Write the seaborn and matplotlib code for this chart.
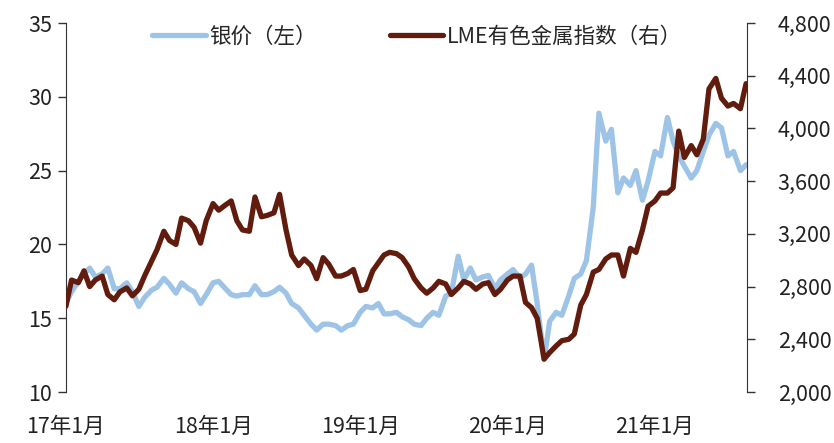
import matplotlib
matplotlib.use("Agg")
import matplotlib.pyplot as plt
import matplotlib.dates as mdates
import numpy as np
import pandas as pd
import seaborn as sns

# semi-monthly observations, Jan 2017 - Aug 2021
dates = pd.date_range("2017-01-01", periods=112, freq="SMS")

silver = [
    16.0, 16.8, 17.5, 18.0, 18.4, 17.8, 18.0, 18.4, 17.0, 17.0,
    17.4, 16.8, 15.8, 16.4, 16.9, 17.1, 17.7, 17.3, 16.7, 17.4,
    17.0, 16.8, 16.0, 16.6, 17.4, 17.5, 17.0, 16.6, 16.5, 16.6,
    16.6, 17.2, 16.6, 16.6, 16.8, 17.1, 16.7, 16.0, 15.7, 15.2,
    14.6, 14.2, 14.6, 14.6, 14.5, 14.2, 14.5, 14.6, 15.4, 15.8,
    15.7, 16.0, 15.3, 15.3, 15.4, 15.1, 14.9, 14.6, 14.5, 15.0,
    15.4, 15.2, 16.5, 16.7, 19.2, 17.6, 18.4, 17.6, 17.8, 17.9,
    17.0, 17.6, 18.0, 18.3, 17.7, 18.0, 18.6, 16.0, 12.2, 14.8,
    15.4, 15.2, 16.5, 17.7, 18.0, 18.9, 22.5, 28.9, 27.0, 27.8,
    23.5, 24.5, 24.0, 25.0, 23.0, 24.3, 26.3, 26.0, 28.6, 27.0,
    26.0, 25.3, 24.5, 25.0, 26.3, 27.4, 28.2, 27.9, 26.0, 26.3,
    25.0, 25.4,
]

lme = [
    2650, 2850, 2830, 2920, 2800, 2850, 2880, 2740, 2700, 2760,
    2790, 2730, 2780, 2880, 2990, 3080, 3220, 3150, 3120, 3320,
    3300, 3250, 3130, 3300, 3430, 3380, 3420, 3450, 3300, 3230,
    3220, 3480, 3330, 3340, 3360, 3500, 3230, 3040, 2960, 3010,
    2960, 2860, 3020, 2970, 2880, 2880, 2900, 2930, 2770, 2780,
    2920, 2980, 3040, 3060, 3050, 3020, 2950, 2860, 2790, 2750,
    2790, 2840, 2820, 2740, 2790, 2840, 2820, 2780, 2820, 2830,
    2740, 2780, 2850, 2880, 2880, 2680, 2640, 2560, 2250, 2300,
    2350, 2390, 2400, 2440, 2660, 2740, 2910, 2930, 3010, 3040,
    3040, 2880, 3090, 3060, 3230, 3410, 3450, 3510, 3510, 3550,
    3980, 3780, 3870, 3800, 3920, 4300, 4380, 4230, 4170, 4190,
    4150, 4340,
]

df = pd.DataFrame({"date": dates, "silver": silver, "lme": lme})

label_silver = "银价（左）"
label_lme = "LME有色金属指数（右）"
blue = "#9DC3E6"
brown = "#621C0E"

sns.set_style("white")
plt.rcParams["font.family"] = ["Noto Sans CJK SC", "DejaVu Sans"]
plt.rcParams["axes.unicode_minus"] = False

fig = plt.figure(figsize=(8.34, 4.43), dpi=100)
ax = fig.add_axes([0.079, 0.115, 0.817, 0.833])
ax2 = ax.twinx()

sns.lineplot(data=df, x="date", y="silver", ax=ax, color=blue, linewidth=3.8,
             label=label_silver, legend=False)
sns.lineplot(data=df, x="date", y="lme", ax=ax2, color=brown, linewidth=3.8,
             label=label_lme, legend=False)

ax.set_xlim(pd.Timestamp("2017-01-01"), pd.Timestamp("2021-08-18"))
ax.set_ylim(10, 35)
ax2.set_ylim(2000, 4800)
ax.set_yticks(np.arange(10, 36, 5))
ax2.set_yticks(np.arange(2000, 4801, 400))
ax2.yaxis.set_major_formatter(matplotlib.ticker.FuncFormatter(lambda v, p: f"{int(v):,}"))

ax.xaxis.set_major_locator(mdates.YearLocator())
ax.xaxis.set_major_formatter(
    matplotlib.ticker.FuncFormatter(lambda v, p: mdates.num2date(v).strftime("%y") + "年1月"))

ax.set_xlabel("")
ax.set_ylabel("")
ax2.set_ylabel("")

for a in (ax, ax2):
    for s in a.spines.values():
        s.set_visible(False)
ax.spines["left"].set_visible(True)
ax2.spines["right"].set_visible(True)
ax.spines["left"].set_color("#333333")
ax2.spines["right"].set_color("#333333")

ax.tick_params(axis="y", left=True, length=6, width=1, color="#333333",
               labelsize=15.5, pad=4, labelcolor="#222222")
ax2.tick_params(axis="y", right=True, length=6, width=1, color="#333333",
                labelsize=15.5, pad=16, labelcolor="#222222")
ax.tick_params(axis="x", bottom=False, labelsize=15.5, pad=14, labelcolor="#222222")

h1, l1 = ax.get_legend_handles_labels()
h2, l2 = ax2.get_legend_handles_labels()
ax.legend(h1 + h2, l1 + l2, loc="upper center", bbox_to_anchor=(0.515, 1.045),
          ncol=2, frameon=False, fontsize=15.5, handlelength=2.5,
          handletextpad=0.15, columnspacing=3.4)

fig.savefig("out.png", dpi=100)
